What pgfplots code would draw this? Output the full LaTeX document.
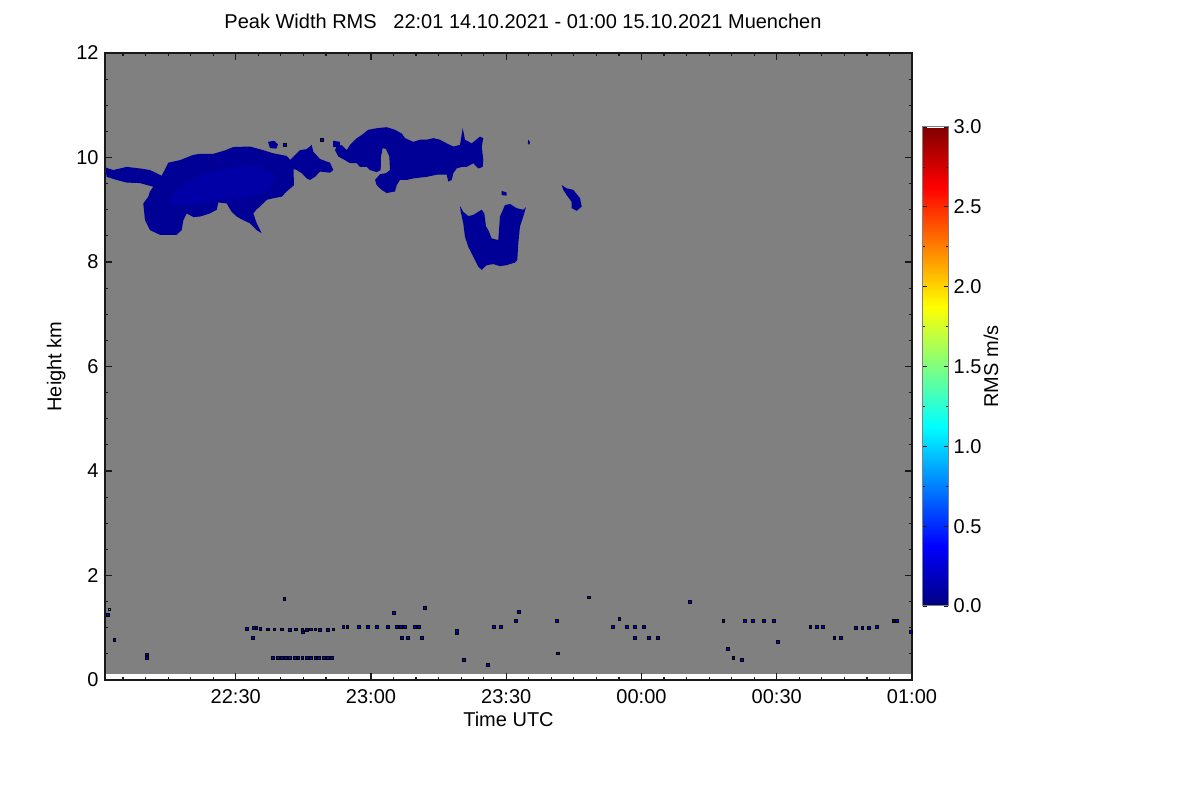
\documentclass[border=0pt]{standalone}
\usepackage{fontspec}
\setmainfont{Liberation Sans}
\usepackage{pgfplots}
\pgfplotsset{compat=1.18}
\pgfplotsset{/pgf/number format/assume math mode=true}
\pgfplotsset{colorbar shift/.style={xshift=5.35bp}}
\definecolor{bggray}{RGB}{128,128,128}
\definecolor{blobc}{RGB}{0,0,150}
\definecolor{blobl}{RGB}{0,0,166}
\definecolor{speck}{RGB}{0,0,215}
\definecolor{speckc}{RGB}{0,225,255}
\definecolor{axisc}{RGB}{25,25,25}
\begin{document}
\fontsize{10bp}{12bp}\selectfont
\begin{tikzpicture}
\path[use as bounding box] (0,0) rectangle (600bp,400bp);
\begin{axis}[
  at={(52.5bp,60bp)}, anchor=south west,
  scale only axis, width=403.5bp, height=313.5bp,
  xmin=1, xmax=180, ymin=0, ymax=12,
  axis on top,
  xtick={30,60,90,120,150,180},
  xticklabels={22:30,23:00,23:30,00:00,00:30,01:00},
  minor xtick={5,10,...,180},
  ytick={0,2,...,12},
  minor ytick={0.5,1,...,11.5},
  tick align=inside,
  major tick length=3.3bp, minor tick length=1.6bp,
  tick style={axisc, line width=0.6bp},
  axis line style={axisc, line width=0.8bp},
  xticklabel style={anchor=base, yshift=-12bp, inner sep=0pt},
  yticklabel style={anchor=east, xshift=-3bp, inner sep=0pt},
  xlabel={Time UTC},
  xlabel style={at={([yshift=-23.3bp]axis description cs:0.5,0)}, anchor=base, inner sep=0pt},
  ylabel={Height km},
  ylabel style={at={([xshift=-21.75bp]axis description cs:0,0.5)}, anchor=base, inner sep=0pt},
  title={Peak Width RMS\ \ \ 22:01 14.10.2021 - 01:00 15.10.2021 Muenchen},
  title style={at={([yshift=6.5bp]axis description cs:0.518,1)}, anchor=base, inner sep=0pt},
  colorbar, colormap/jet, point meta min=0, point meta max=3,
  colorbar style={
    at={(parent axis.east)}, anchor=west,
    scale only axis, width=12.8bp, height=239.5bp,
    ytick={0,0.5,...,3},
    minor y tick num=1,
    yticklabel pos=right,
    tick align=inside,
    major tick length=2bp, minor tick length=1bp,
    tick style={axisc, line width=0.4bp},
    axis line style={gray, line width=0.5bp},
    yticklabel style={/pgf/number format/.cd, fixed, fixed zerofill, precision=1, /tikz/.cd, anchor=west, inner sep=0pt, xshift=2.5bp},
    ylabel={RMS m/s},
    ylabel style={at={([xshift=17.5bp]axis description cs:1,0.5)}, anchor=north, inner sep=0pt},
  },
]
% gray background (no-data value)
\addplot[fill=bggray, draw=none] coordinates {(1,0.11) (180,0.11) (180,12) (1,12)} -- cycle;
% blob A
\addplot[fill=blobc, draw=none] coordinates {
(1.0,9.81) (2.84,9.76) (5.81,9.82) (8.76,9.79) (10.98,9.76) (13.58,9.65) (15.04,9.90)
(17.64,9.95) (20.59,10.05) (22.07,10.07) (25.02,10.07) (27.40,10.13) (29.46,10.20)
(33.16,10.21) (36.11,10.14) (38.33,10.08) (41.30,10.03) (42.77,9.89) (42.92,9.47)
(41.30,9.35) (40.19,9.25) (38.33,9.22) (36.87,9.19) (35.38,9.06) (34.65,9.01) (33.90,8.93)
(34.65,8.74) (35.76,8.55) (34.65,8.61) (33.16,8.74) (31.68,8.80) (30.21,8.87) (29.10,8.96)
(27.99,9.12) (26.13,9.14) (25.78,9.00) (24.29,8.93) (22.07,8.87) (20.59,8.86) (19.12,8.93)
(18.37,8.80) (18.01,8.61) (16.90,8.52) (13.20,8.52) (10.98,8.61) (9.87,8.80) (9.50,9.12)
(10.60,9.25) (10.98,9.35) (11.71,9.44) (8.76,9.51) (5.81,9.52) (3.60,9.57) (1.38,9.63)
} -- cycle;
\addplot[fill=blobl, draw=none] coordinates {
(16.53,9.38) (22.07,9.67) (28.73,9.80) (34.27,9.86) (38.71,9.67) (37.60,9.38)
(33.16,9.24) (26.51,9.19) (19.85,9.09) (15.42,9.09)
} -- cycle;
% blob B
\addplot[fill=blobc, draw=none] coordinates {
(42.04,9.95) (44.25,10.14) (45.74,10.16) (46.85,10.24) (47.20,10.11) (48.69,9.97)
(50.91,9.90) (51.64,9.76) (50.91,9.71) (48.69,9.73) (47.58,9.63) (46.47,9.57)
(45.74,9.60) (44.63,9.70) (43.52,9.76) (42.04,9.80)
} -- cycle;
\addplot[fill=blobc, draw=none] coordinates {
(37.16,10.30) (38.5,10.32) (39.38,10.25) (39.0,10.17) (37.6,10.18)
} -- cycle;
\addplot[fill=blobc, draw=none] coordinates {
(51.6,10.32) (53.1,10.30) (53.1,10.20) (51.6,10.20)
} -- cycle;
% blob C
\addplot[fill=blobc, draw=none] coordinates {
(52.39,10.21) (53.50,10.24) (54.61,10.14) (55.34,10.24) (56.83,10.37) (57.94,10.43)
(59.40,10.53) (61.27,10.56) (63.48,10.58) (65.32,10.53) (66.81,10.46) (67.54,10.37)
(69.38,10.30) (70.87,10.34) (72.36,10.34) (73.82,10.37) (75.31,10.34) (76.79,10.27)
(78.26,10.21) (79.74,10.24) (80.34,10.56) (80.85,10.34) (82.34,10.27) (84.18,10.40)
(84.91,10.37) (84.56,10.21) (84.91,9.95) (84.78,9.82) (83.80,9.79) (82.69,9.89)
(81.23,9.82) (80.12,9.82) (79.01,9.79) (78.26,9.70) (77.90,9.57) (77.15,9.54)
(76.79,9.67) (74.57,9.67) (72.36,9.63) (69.38,9.60) (67.92,9.57) (66.43,9.57)
(65.70,9.47) (65.32,9.35) (63.48,9.32) (62.38,9.38) (61.27,9.47) (60.89,9.57)
(62.00,9.68) (63.33,9.70) (64.22,9.76) (64.06,10.02) (63.33,10.16) (62.60,10.18)
(62.22,10.02) (62.15,9.76) (61.27,9.72) (59.78,9.76) (59.05,9.82) (57.56,9.82)
(56.83,9.89) (55.34,9.89) (54.23,9.95) (52.75,10.02) (52.02,10.14)
} -- cycle;
% blob D
\addplot[fill=blobc, draw=none] coordinates {
(79.74,9.07) (80.47,8.96) (81.58,8.88) (82.69,8.90) (83.80,8.96) (84.56,9.00) (85.13,8.93)
(85.51,8.68) (86.02,8.61) (86.77,8.45) (88.24,8.42) (88.61,8.87) (89.72,9.09) (90.83,9.11)
(92.32,9.03) (93.78,9.00) (94.38,9.05) (93.78,8.87) (93.05,8.68) (92.67,8.36) (92.45,8.04)
(91.94,7.99) (90.10,7.94) (88.61,7.92) (87.13,7.96) (85.66,7.94) (84.56,7.85) (83.80,7.91)
(82.69,8.10) (81.58,8.29) (80.85,8.48) (80.47,8.74) (79.90,8.96)
} -- cycle;
\addplot[fill=blobc, draw=none] coordinates {(89.0,9.36) (90.1,9.33) (90.1,9.27) (89.0,9.28)} -- cycle;
\addplot[fill=blobc, draw=none] coordinates {(94.85,10.34) (95.25,10.30) (95.1,10.24) (94.8,10.27)} -- cycle;
% blob E
\addplot[fill=blobc, draw=none] coordinates {
(102.30,9.47) (103.41,9.41) (104.88,9.38) (106.36,9.22) (106.74,9.06) (105.63,8.98)
(104.52,9.03) (104.52,9.15) (103.41,9.28) (102.66,9.38)
} -- cycle;
% low-level specks
\addplot[only marks, mark=square*, mark size=0.7pt, mark options={draw=none, fill=speck}] coordinates {
(40.9,10.24) (49.07,10.34)
(1.72,1.24) (3.09,0.77) (10.32,0.43) (10.32,0.49) (40.81,1.55) (44.92,0.92) (33.72,0.80)
(65.10,1.28) (71.93,1.38) (66.88,0.80) (68.21,0.80) (71.31,0.80) (79.14,0.90) (79.14,0.94)
(80.63,0.38) (85.87,0.29) (87.24,1.02) (88.73,1.02) (92.10,1.13) (92.83,1.31)
(101.17,1.13) (101.41,0.51) (108.27,1.58) (113.64,1.02) (116.74,1.02) (118.60,1.02)
(120.47,1.02) (115.12,1.17) (118.60,0.80) (121.71,0.80) (123.58,0.80) (130.67,1.50)
(138.15,1.13) (142.87,1.13) (144.73,1.13) (147.22,1.13) (149.35,1.13) (139.14,0.59)
(140.38,0.43) (142.25,0.38) (150.34,0.73) (157.44,1.02) (158.9,1.02) (160.30,1.02)
(162.79,0.80) (164.27,0.80) (167.51,0.99) (169.0,0.99) (170.5,0.99) (172.13,1.02)
(175.85,1.13) (176.72,1.13) (179.8,0.92)
(32.47,0.98) (33.96,0.99) (34.58,0.99) (35.46,0.98) (37.07,0.97) (38.57,0.97)
(40.19,0.97) (42.05,0.96) (43.30,0.97) (44.79,0.96) (45.79,0.96) (46.66,0.97)
(47.65,0.97) (48.65,0.96) (50.52,0.96) (51.64,0.97)
(53.88,1.02) (54.75,1.02) (57.24,1.02) (59.23,1.02) (61.35,1.02) (63.83,1.02)
(65.70,1.02) (66.57,1.02) (67.57,1.02) (69.69,1.02) (70.68,1.02)
(38.32,0.43) (39.31,0.43) (40.19,0.43) (41.06,0.43) (42.05,0.43) (43.05,0.43)
(43.92,0.43) (44.79,0.43) (45.79,0.43) (46.66,0.43) (47.65,0.43) (48.53,0.43)
(49.52,0.43) (50.52,0.43) (51.39,0.43)
};
\addplot[only marks, mark=square*, mark size=0.7pt, mark options={draw=none, fill=speckc}] coordinates {(1.98,1.35)};
\end{axis}
\end{tikzpicture}
\end{document}
